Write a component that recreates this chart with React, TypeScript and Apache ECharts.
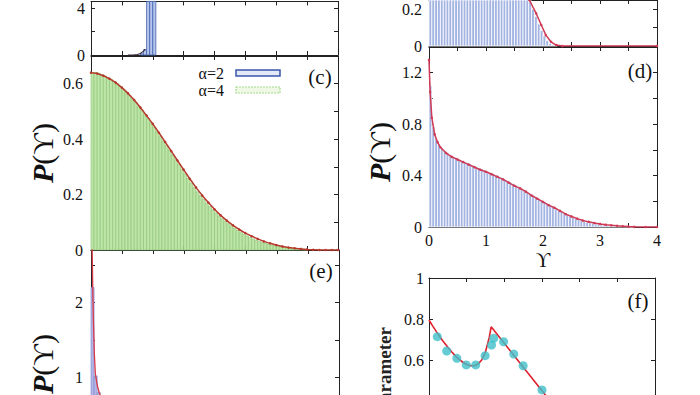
import React, { useEffect, useRef } from "react";
import * as echarts from "echarts";

const FONT = '"Liberation Serif", "DejaVu Serif", serif';
const BIN = 0.05;

// Panel top-left: narrow spike (bins start at 0.8)
const A_START = 0.8;
const A_BARS = [0.1, 0.45, 11, 12, 9];
const A_CURVE: number[][] = [[0.6, 0], [0.7, 0.01], [0.75, 0.04], [0.8, 0.13], [0.85, 0.33], [0.88, 0.5]];

// Panel top-right
const B_BARS = [
  0.5, 0.5, 0.5, 0.5, 0.5, 0.5, 0.5, 0.5, 0.5, 0.5,
  0.49, 0.49, 0.48, 0.48, 0.47, 0.47, 0.46, 0.46, 0.45, 0.45,
  0.44, 0.43, 0.42, 0.41, 0.4, 0.39, 0.38, 0.37, 0.35, 0.33,
  0.31, 0.3, 0.29, 0.28, 0.27, 0.245, 0.2, 0.16, 0.12, 0.085,
  0.055, 0.03, 0.014, 0.006, 0.002,
];
const B_CURVE: number[][] = [[0, 0.5], [0.5, 0.5], [1.0, 0.45], [1.5, 0.32], [1.7, 0.28], [1.76, 0.25], [1.88, 0.177], [1.97, 0.114], [2.05, 0.059], [2.14, 0.023], [2.23, 0.005], [2.34, 0], [4, 0]];

// Panel (c), alpha = 4
const C_BARS = [
  0.64, 0.64, 0.638, 0.632, 0.628, 0.622, 0.615, 0.608, 0.6, 0.59,
  0.58, 0.57, 0.558, 0.545, 0.532, 0.518, 0.505, 0.49, 0.475, 0.46,
  0.443, 0.427, 0.41, 0.393, 0.377, 0.36, 0.343, 0.326, 0.309, 0.292,
  0.275, 0.258, 0.241, 0.225, 0.21, 0.196, 0.182, 0.169, 0.157, 0.145,
  0.134, 0.123, 0.113, 0.104, 0.095, 0.087, 0.079, 0.071, 0.064, 0.057,
  0.051, 0.045, 0.04, 0.035, 0.031, 0.027, 0.024, 0.021, 0.018, 0.015,
  0.013, 0.011, 0.009, 0.007, 0.006, 0.005, 0.004, 0.003, 0.002, 0.001,
];
const C_CURVE_X = [0, 0.1, 0.2, 0.3, 0.4, 0.5, 0.6, 0.7, 0.8, 0.9, 1.0, 1.1, 1.2, 1.3, 1.4, 1.5, 1.6, 1.7, 1.8, 1.9, 2.0, 2.1, 2.2, 2.3, 2.4, 2.5, 2.6, 2.7, 2.8, 2.9, 3.0, 3.1, 3.2, 3.3, 3.4, 3.5, 3.6, 3.7, 3.8, 3.9, 4.0];
const C_CURVE_Y = [0.64, 0.637, 0.629, 0.618, 0.604, 0.586, 0.565, 0.541, 0.514, 0.485, 0.455, 0.423, 0.39, 0.357, 0.323, 0.29, 0.257, 0.226, 0.197, 0.171, 0.147, 0.125, 0.106, 0.089, 0.074, 0.061, 0.05, 0.04, 0.031, 0.024, 0.018, 0.013, 0.009, 0.006, 0.004, 0.002, 0.001, 0, 0, 0, 0];

// Panel (d)
const D_BARS = [
  1.1, 0.78, 0.69, 0.645, 0.615, 0.595, 0.578, 0.562, 0.55, 0.54,
  0.528, 0.518, 0.508, 0.5, 0.49, 0.48, 0.47, 0.46, 0.452, 0.442,
  0.434, 0.424, 0.414, 0.405, 0.394, 0.384, 0.374, 0.362, 0.35, 0.337,
  0.325, 0.313, 0.3, 0.289, 0.276, 0.262, 0.248, 0.234, 0.22, 0.208,
  0.195, 0.182, 0.17, 0.158, 0.145, 0.132, 0.12, 0.107, 0.095, 0.085,
  0.075, 0.066, 0.058, 0.05, 0.044, 0.038, 0.033, 0.029, 0.025, 0.021,
  0.018, 0.015, 0.012, 0.01, 0.008, 0.006, 0.005, 0.004, 0.003, 0.002,
  0.001, 0.001,
];
const D_CURVE: number[][] = [[0, 1.3], [0.02, 1.05], [0.05, 0.85], [0.1, 0.72], [0.15, 0.66], [0.2, 0.62], [0.3, 0.575], [0.4, 0.545], [0.5, 0.525], [0.6, 0.505], [0.7, 0.485], [0.8, 0.465], [0.9, 0.445], [1.0, 0.43], [1.1, 0.41], [1.2, 0.39], [1.3, 0.37], [1.4, 0.345], [1.5, 0.32], [1.6, 0.3], [1.7, 0.275], [1.8, 0.245], [1.9, 0.22], [2.0, 0.195], [2.1, 0.17], [2.2, 0.15], [2.3, 0.125], [2.4, 0.1], [2.5, 0.082], [2.6, 0.065], [2.7, 0.05], [2.8, 0.04], [2.9, 0.031], [3.0, 0.024], [3.1, 0.018], [3.2, 0.013], [3.3, 0.009], [3.4, 0.006], [3.5, 0.003], [3.6, 0.001], [3.8, 0], [4, 0]];

// Panel (e), alpha = 2
const E_BARS = [2.2, 1.02, 0.8, 0.7, 0.63, 0.58, 0.54, 0.5, 0.47, 0.45, 0.43, 0.41];
const E_CURVE: number[][] = [[0, 3.4], [0.01, 3.0], [0.02, 2.65], [0.03, 2.1], [0.04, 1.73], [0.055, 1.3], [0.07, 1.05], [0.1, 0.9], [0.135, 0.79], [0.2, 0.68], [0.3, 0.6], [0.5, 0.5], [1, 0.38], [2, 0.15], [3, 0.03], [4, 0]];

// Panel (f)
const F_LINE: number[][] = [[0, 0.795], [0.1, 0.765], [0.2, 0.737], [0.3, 0.71], [0.4, 0.685], [0.5, 0.662], [0.6, 0.64], [0.7, 0.62], [0.8, 0.603], [0.9, 0.589], [1.0, 0.578], [1.1, 0.572], [1.2, 0.572], [1.3, 0.58], [1.4, 0.6], [1.5, 0.64], [1.6, 0.71], [1.65, 0.762], [3.0, 0.45], [3.6, 0.31]];
const F_DOTS_X = [0.22, 0.47, 0.74, 0.99, 1.24, 1.49, 1.66, 1.72, 1.98, 2.25, 2.5, 3.0];
const F_DOTS_Y = [0.714, 0.644, 0.608, 0.576, 0.576, 0.621, 0.673, 0.706, 0.689, 0.629, 0.572, 0.454];

const isMul = (v: number, s: number) => Math.abs(v / s - Math.round(v / s)) < 1e-6;
const fmtStep = (s: number) => (v: number) => (isMul(v, s) ? String(Number(v.toFixed(2))) : "");

function xAxes(gridIndex: number, min: number, max: number, interval: number, label: ((v: number) => string) | null) {
  const base = (position: string, showLabel: boolean) => ({
    type: "value",
    gridIndex,
    min,
    max,
    interval,
    position,
    axisLine: { show: true, onZero: false, lineStyle: { color: "#222", width: 1 } },
    axisTick: { show: true, inside: true, length: 4, lineStyle: { color: "#222" } },
    axisLabel: showLabel && label
      ? { show: true, formatter: label, margin: 5, color: "#111", fontFamily: FONT, fontSize: 16 }
      : { show: false },
    splitLine: { show: false },
  });
  return [base("bottom", true), base("top", false)];
}

function yAxes(gridIndex: number, min: number, max: number, interval: number, label: (v: number) => string, margin: number) {
  const base = (position: string, showLabel: boolean) => ({
    type: "value",
    gridIndex,
    min,
    max,
    interval,
    position,
    axisLine: { show: true, onZero: false, lineStyle: { color: "#222", width: 1 } },
    axisTick: { show: true, inside: true, length: 4, lineStyle: { color: "#222" } },
    axisLabel: showLabel
      ? { show: true, formatter: label, margin, color: "#111", fontFamily: FONT, fontSize: 16 }
      : { show: false },
    splitLine: { show: false },
  });
  return [base("left", true), base("right", false)];
}

function hist(g: number, name: string, start: number, heights: number[], fill: string, stroke: string, lw: number) {
  return {
    type: "custom",
    name,
    xAxisIndex: 2 * g,
    yAxisIndex: 2 * g,
    silent: true,
    encode: { x: [0, 1], y: 2 },
    data: heights.map((h, i) => [start + i * BIN, start + (i + 1) * BIN, h]),
    renderItem: (params: any, api: any) => {
      const cs = params.coordSys;
      const a = api.coord([api.value(0), api.value(2)]);
      const b = api.coord([api.value(1), 0]);
      const top = Math.max(a[1], cs.y);
      const bottom = Math.min(b[1], cs.y + cs.height);
      if (bottom <= top) return null;
      return {
        type: "rect",
        shape: { x: a[0], y: top, width: b[0] - a[0], height: bottom - top },
        style: { fill, stroke, lineWidth: lw },
      };
    },
    z: 2,
  };
}

function curve(g: number, data: number[][], color: string, width: number, sym: number) {
  return {
    type: "line",
    xAxisIndex: 2 * g,
    yAxisIndex: 2 * g,
    data,
    silent: true,
    clip: true,
    showSymbol: sym > 0,
    symbol: "circle",
    symbolSize: sym,
    itemStyle: { color },
    lineStyle: { color, width },
    z: 3,
  };
}

const pLabel = (x: number, y: number) => ({
  type: "text",
  x,
  y,
  rotation: Math.PI / 2,
  style: {
    text: "{p|P}(ϒ)",
    rich: { p: { fontStyle: "italic", fontWeight: "bold", fontSize: 30, fontFamily: FONT, fill: "#111" } },
    fontSize: 30,
    fontFamily: FONT,
    fill: "#111",
    align: "center",
    verticalAlign: "middle",
  },
});

const panelLabel = (text: string, x: number, y: number) => ({
  type: "text",
  x,
  y,
  style: { text, fontSize: 21, fontFamily: FONT, fill: "#111", align: "center", verticalAlign: "middle" },
});

export default function App() {
  const ref = useRef<HTMLDivElement>(null);
  useEffect(() => {
    document.body.style.margin = "0";
    document.body.style.overflow = "hidden";
    if (!ref.current) return;
    const chart = echarts.init(ref.current, null, { renderer: "svg" });
    const option: any = {
      animation: false,
      backgroundColor: "#fff",
      grid: [
        { left: 91, top: 0, width: 247, height: 55 },
        { left: 429, top: 0, width: 228, height: 46 },
        { left: 91, top: 56, width: 247, height: 194 },
        { left: 429, top: 47, width: 228, height: 180 },
        { left: 91, top: 250, width: 248, height: 202.5 },
        { left: 429, top: 278, width: 226, height: 164 },
      ],
      xAxis: [
        ...xAxes(0, 0, 4, 0.5, null),
        ...xAxes(1, 0, 4, 0.5, null),
        ...xAxes(2, 0, 4, 0.5, null),
        ...xAxes(3, 0, 4, 0.5, fmtStep(1)).map((a: any, i: number) =>
          i === 0
            ? { ...a, name: "ϒ", nameLocation: "middle", nameGap: 23, nameTextStyle: { fontFamily: FONT, fontSize: 20, color: "#111" } }
            : a
        ),
        ...xAxes(4, 0, 4, 0.5, null),
        ...xAxes(5, 0, 6, 1, null),
      ],
      yAxis: [
        ...yAxes(0, 0, 4.56, 2, fmtStep(4), 6),
        ...yAxes(1, 0, 0.25, 0.1, fmtStep(0.2), 7),
        ...yAxes(2, 0, 0.7, 0.1, fmtStep(0.2), 8),
        ...yAxes(3, 0, 1.4, 0.2, fmtStep(0.4), 7),
        ...yAxes(4, 0, 2.7, 0.5, fmtStep(1), 8),
        ...yAxes(5, 0.2, 1, 0.2, fmtStep(0.2), 5),
      ],
      series: [
        hist(0, "spike", A_START, A_BARS, "#b4c4ea", "#4262b2", 0.8),
        curve(0, A_CURVE, "#3a2a3a", 1.2, 0),
        hist(1, "top", 0, B_BARS, "#a3b4e2", "#ffffff", 0.8),
        curve(1, B_CURVE, "#d03a55", 1.5, 2.5),
        hist(2, "α=4", 0, C_BARS, "#bde5a8", "#8cc274", 0.6),
        curve(2, C_CURVE_X.map((x, i) => [x, C_CURVE_Y[i]]), "#b5392c", 1.5, 2.5),
        hist(3, "d", 0, D_BARS, "#a3b4e2", "#ffffff", 0.8),
        curve(3, D_CURVE, "#d03a55", 1.5, 2.5),
        hist(4, "α=2", 0, E_BARS, "#b3b6e6", "#7a86cc", 0.6),
        curve(4, E_CURVE, "#d83a48", 1.3, 0),
        curve(5, F_LINE, "#e0202c", 1.6, 0),
        {
          type: "scatter",
          xAxisIndex: 10,
          yAxisIndex: 10,
          data: F_DOTS_X.map((x, i) => [x, F_DOTS_Y[i]]),
          symbolSize: 9,
          itemStyle: { color: "#3fbfc9" },
          silent: true,
          z: 4,
        },
      ],
      graphic: [
        pLabel(42, 153),
        pLabel(379, 152),
        pLabel(42, 364),
        {
          type: "text",
          x: 384,
          y: 327,
          rotation: Math.PI / 2,
          style: { text: "Order parameter", fontSize: 19, fontWeight: "bold", fontFamily: FONT, fill: "#222", align: "right", verticalAlign: "middle" },
        },
        panelLabel("(c)", 320, 77),
        panelLabel("(d)", 640, 71),
        panelLabel("(e)", 321, 271),
        panelLabel("(f)", 638, 301),
        { type: "text", x: 224, y: 73, style: { text: "α=2", fontSize: 16, fontFamily: FONT, fill: "#111", align: "right", verticalAlign: "middle" } },
        { type: "rect", shape: { x: 236, y: 70, width: 44, height: 6 }, style: { fill: "#e3e9f8", stroke: "#3a56a8", lineWidth: 1.5 } },
        { type: "text", x: 224, y: 90, style: { text: "α=4", fontSize: 16, fontFamily: FONT, fill: "#111", align: "right", verticalAlign: "middle" } },
        { type: "rect", shape: { x: 236, y: 87, width: 44, height: 6 }, style: { fill: "#eef8e4", stroke: "#a8d890", lineWidth: 1.2, lineDash: [2, 1] } },
      ],
    };
    chart.setOption(option);
    return () => chart.dispose();
  }, []);
  return <div ref={ref} style={{ width: 700, height: 470 }} />;
}
